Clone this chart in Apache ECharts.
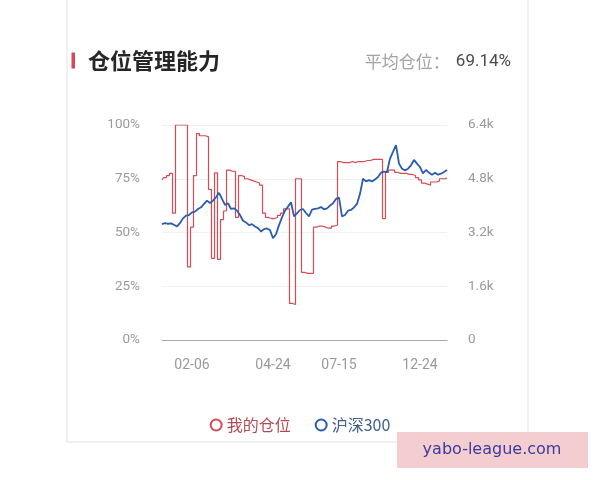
<!DOCTYPE html>
<html>
<head>
<meta charset="utf-8">
<script src="https://cdn.jsdelivr.net/npm/echarts@6/dist/echarts.min.js"></script>
<style>
html,body{margin:0;padding:0;background:#ffffff;}
#chart{width:600px;height:480px;}
</style>
</head>
<body>
<div id="chart"></div>
<script>
const titleText = '仓位管理能力';
const avgLabel = '平均仓位：';
const avgValue = '69.14%';
const seriesNames = ['我的仓位', '沪深300'];
const watermarkText = 'yabo-league.com';

const categories = (
  '01-06 01-09 01-12 01-15 01-18 01-21 01-24 01-27 01-30 02-03 ' +
  '02-06 02-09 02-12 02-15 02-18 02-21 02-24 02-27 03-01 03-04 ' +
  '03-07 03-10 03-13 03-16 03-19 03-22 03-25 03-28 03-31 04-03 ' +
  '04-06 04-09 04-12 04-15 04-18 04-20 04-22 04-24 04-28 05-02 ' +
  '05-06 05-10 05-14 05-18 05-22 05-26 05-30 06-03 06-07 06-11 ' +
  '06-15 06-19 06-23 06-27 07-01 07-04 07-07 07-10 07-13 07-15 ' +
  '07-21 07-27 08-02 08-08 08-14 08-20 08-26 09-01 09-07 09-13 ' +
  '09-19 09-25 10-01 10-07 10-13 10-19 10-25 10-31 11-06 11-12 ' +
  '11-18 11-24 11-30 12-06 12-12 12-18 12-24 12-30 01-05 01-11 ' +
  '01-17 01-23 01-29 02-04 02-10 02-16'
).split(' ');

const shownLabels = ['02-06', '04-24', '07-15', '12-24'];

const positionPct = [
  74.5, 75.5, 76.5, 77.5, 59, 100, 100, 100, 100, 34,
  52.5, 76.5, 96, 95, 95, 94.5, 70, 38, 77.7, 37.5,
  56, 60, 79, 78.5, 78.5, 57, 76.5, 76, 75, 74.5,
  74, 73.5, 73, 72, 59, 57, 56.5, 56.5, 57, 58,
  59, 61, 61, 17, 16.5, 75, 75, 31.5, 31, 31,
  31, 52.5, 53, 53, 52.5, 52, 52, 53, 53.5, 83,
  82.5, 82.5, 82.5, 83, 82.5, 83, 83, 83, 83.5, 83.5,
  84, 84, 84, 84, 56.5, 78, 79, 79, 78, 77.5,
  77.5, 77.5, 77, 77, 76.5, 75.5, 74.5, 73, 72.5, 72,
  73.5, 73.5, 74, 75, 75, 75.5
];

const hs300 = [
  3450, 3480, 3460, 3470, 3430, 3380, 3480, 3620, 3700, 3720,
  3800, 3820, 3900, 3950, 4050, 4150, 4080, 4150, 4250, 4380,
  4200, 4020, 4070, 3900, 3920, 3850, 3720, 3550, 3500, 3420,
  3450, 3380, 3330, 3230, 3300, 3320, 3270, 3030, 3150, 3420,
  3650, 3850, 3970, 4100, 3680, 3770, 3870, 3900, 3780, 3680,
  3880, 3900, 3920, 3960, 3890, 3920, 4000, 4070, 4200, 4240,
  3680, 3720, 3850, 3870, 3950, 4050, 4350, 4800, 4720, 4760,
  4720, 4780, 4850, 4980, 5010, 5000, 5400, 5600, 5800, 5250,
  5100, 5050, 5100, 5200, 5360, 5250, 5150, 4960, 5060, 4980,
  4920, 4980, 4920, 4950, 5000, 5060
];

const leftTicks = { min: 0, max: 100, interval: 25 };
const rightTicks = { min: 0, max: 6400, interval: 1600 };

const RED = '#d44a55';
const BLUE = '#2a5cb0';
const CJK = "'Noto Sans CJK SC', sans-serif";
const NUM = "Roboto, 'Noto Sans CJK SC', sans-serif";

const chart = echarts.init(document.getElementById('chart'), null, { renderer: 'canvas' });

chart.setOption({
  backgroundColor: '#ffffff',
  animation: false,
  graphic: [
    { type: 'rect', z: -10, shape: { x: 67, y: -10, width: 461, height: 452 },
      style: { fill: '#ffffff', stroke: '#ececec', lineWidth: 1.5 } },
    { type: 'rect', shape: { x: 71.5, y: 52.5, width: 3.5, height: 16 }, style: { fill: RED } },
    { type: 'text', x: 88, y: 61, style: { text: titleText, font: "bold 22px 'Noto Sans CJK SC', sans-serif", fill: '#262626', verticalAlign: 'middle' } },
    { type: 'text', x: 511, y: 62, style: {
        text: '{a|' + avgLabel + '}{b|' + avgValue + '}', align: 'right', verticalAlign: 'middle',
        rich: {
          a: { fontSize: 17, fontFamily: CJK, fill: '#a3a3a3', color: '#a3a3a3' },
          b: { fontSize: 17, fontFamily: NUM, fill: '#4a4a4a', color: '#4a4a4a', padding: [0, 0, 0, 6] }
        } } },
    { type: 'rect', shape: { x: 397, y: 432, width: 191, height: 36 }, style: { fill: '#f3cdcf' } },
    { type: 'text', x: 492, y: 450, style: { text: watermarkText, fontSize: 16, fontFamily: "'DejaVu Sans', sans-serif", fill: '#3b3b9e', align: 'center', verticalAlign: 'middle' } }
  ],
  grid: { left: 162, right: 153, top: 125, bottom: 140 },
  legend: {
    top: 412, left: 'center', itemGap: 24, itemWidth: 11, itemHeight: 11,
    icon: 'emptyCircle',
    textStyle: { fontSize: 16, fontFamily: CJK },
    data: [
      { name: seriesNames[0], textStyle: { color: '#b24a55' } },
      { name: seriesNames[1], textStyle: { color: '#40608e' } }
    ]
  },
  xAxis: {
    type: 'category', boundaryGap: false, data: categories,
    axisLine: { lineStyle: { color: '#a8a8a8', width: 1.2 } },
    axisTick: { show: false },
    axisLabel: {
      color: '#9a9a9a', fontSize: 14, fontFamily: NUM, margin: 19,
      interval: function (idx, val) { return shownLabels.indexOf(val) >= 0 && idx > 5 && idx < 90; }
    },
    splitLine: { show: false }
  },
  yAxis: [
    {
      type: 'value', min: leftTicks.min, max: leftTicks.max, interval: leftTicks.interval,
      axisLine: { show: false }, axisTick: { show: false },
      axisLabel: { color: '#9a9a9a', fontSize: 13.5, fontFamily: NUM, margin: 22, formatter: '{value}%' },
      splitLine: { lineStyle: { color: '#f1f1f1', width: 1 } }
    },
    {
      type: 'value', min: rightTicks.min, max: rightTicks.max, interval: rightTicks.interval,
      axisLine: { show: false }, axisTick: { show: false },
      axisLabel: { color: '#9a9a9a', fontSize: 13.5, fontFamily: NUM, margin: 21,
        formatter: function (v) { return v === 0 ? '0' : (v / 1000) + 'k'; } },
      splitLine: { show: false }
    }
  ],
  series: [
    {
      name: seriesNames[0], type: 'line', yAxisIndex: 0, data: positionPct,
      step: 'middle', showSymbol: false, symbol: 'emptyCircle',
      itemStyle: { color: RED },
      lineStyle: { color: RED, width: 1.2 }, z: 2
    },
    {
      name: seriesNames[1], type: 'line', yAxisIndex: 1, data: hs300,
      showSymbol: false, symbol: 'emptyCircle',
      itemStyle: { color: BLUE },
      lineStyle: { color: BLUE, width: 1.8 }, z: 3
    }
  ]
});
</script>
</body>
</html>
